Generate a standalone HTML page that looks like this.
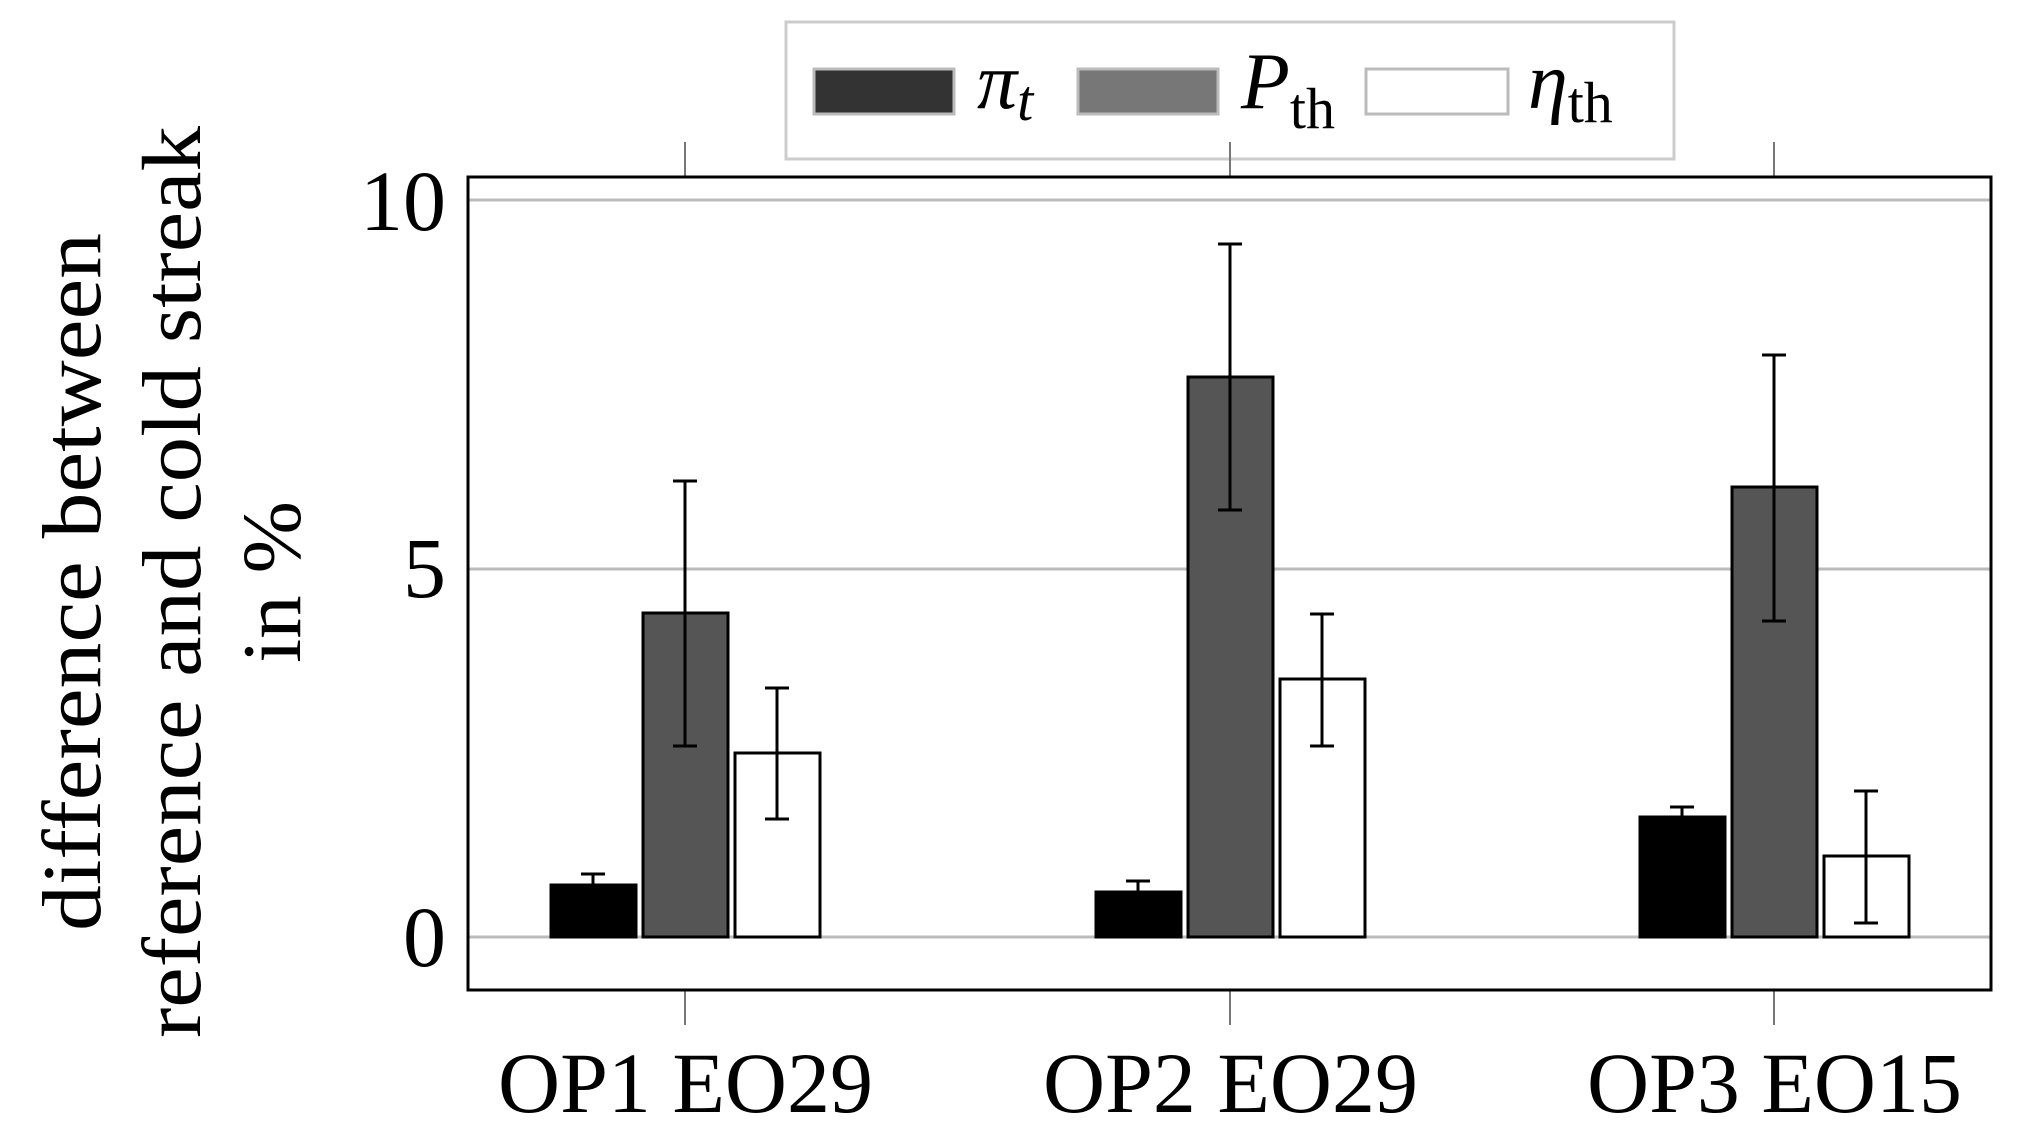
<!DOCTYPE html>
<html><head><style>body{margin:0;background:#fff}svg{display:block}</style></head><body>
<svg width="2017" height="1143" xmlns="http://www.w3.org/2000/svg" font-family="'Liberation Serif',serif">
<rect width="2017" height="1143" fill="#fff"/>
<!-- legend -->
<rect x="786" y="22" width="888" height="137" fill="#fff" stroke="#ccc" stroke-width="3"/>
<rect x="814" y="69" width="140" height="45" fill="#333" stroke="#bbb" stroke-width="3"/>
<text x="977" y="108" font-size="80" font-style="italic">π<tspan font-size="58" dy="12">t</tspan></text>
<rect x="1078" y="69" width="140" height="45" fill="#777" stroke="#bbb" stroke-width="3"/>
<text x="1241" y="108" font-size="80" font-style="italic">P<tspan font-size="58" dy="20" font-style="normal">th</tspan></text>
<rect x="1366" y="69" width="142" height="45" fill="#fff" stroke="#bbb" stroke-width="3"/>
<text x="1528" y="108" font-size="80" font-style="italic">η<tspan font-size="58" dy="14" font-style="normal">th</tspan></text>
<!-- grid -->
<g stroke="#bbb" stroke-width="3">
<line x1="468" y1="200" x2="1991" y2="200"/><line x1="468" y1="569" x2="1991" y2="569"/><line x1="468" y1="937" x2="1991" y2="937"/>
</g>
<g stroke="#777" stroke-width="2">
<line x1="685" y1="142" x2="685" y2="177"/><line x1="1230" y1="142" x2="1230" y2="177"/><line x1="1774" y1="142" x2="1774" y2="177"/>
<line x1="685" y1="990" x2="685" y2="1025"/><line x1="1230" y1="990" x2="1230" y2="1025"/><line x1="1774" y1="990" x2="1774" y2="1025"/>
</g>
<!-- bars -->
<g stroke="#000" stroke-width="3">
<rect x="551" y="885" width="85" height="52" fill="#000"/>
<rect x="643" y="613" width="85" height="324" fill="#555"/>
<rect x="735" y="753" width="85" height="184" fill="#fff"/>
<rect x="1096" y="892" width="85" height="45" fill="#000"/>
<rect x="1188" y="377" width="85" height="560" fill="#555"/>
<rect x="1280" y="679" width="85" height="258" fill="#fff"/>
<rect x="1640" y="817" width="85" height="120" fill="#000"/>
<rect x="1732" y="487" width="85" height="450" fill="#555"/>
<rect x="1824" y="856" width="85" height="81" fill="#fff"/>
</g>
<!-- error bars -->
<g stroke="#000" stroke-width="3" fill="none">
<path d="M593 885V874M581 874H605"/>
<path d="M685 481V746M673 481H697M673 746H697"/>
<path d="M777 688V819M765 688H789M765 819H789"/>
<path d="M1138 892V881M1126 881H1150"/>
<path d="M1230 244V510M1218 244H1242M1218 510H1242"/>
<path d="M1322 614V746M1310 614H1334M1310 746H1334"/>
<path d="M1682 817V807M1670 807H1694"/>
<path d="M1774 355V621M1762 355H1786M1762 621H1786"/>
<path d="M1866 791V923M1854 791H1878M1854 923H1878"/>
</g>
<rect x="468" y="177" width="1523" height="813" fill="none" stroke="#000" stroke-width="3"/>
<!-- y ticks -->
<g font-size="86" text-anchor="end">
<text x="446" y="230">10</text><text x="446" y="597">5</text><text x="446" y="966">0</text>
</g>
<g font-size="86">
<text x="498" y="1112" textLength="375" lengthAdjust="spacingAndGlyphs">OP1 EO29</text>
<text x="1043" y="1112" textLength="375" lengthAdjust="spacingAndGlyphs">OP2 EO29</text>
<text x="1587" y="1112" textLength="375" lengthAdjust="spacingAndGlyphs">OP3 EO15</text>
</g>
<g font-size="84" transform="translate(0,582) rotate(-90)">
<text x="-349" y="100" textLength="698" lengthAdjust="spacingAndGlyphs">difference between</text>
<text x="-456" y="200" textLength="912" lengthAdjust="spacingAndGlyphs">reference and cold streak</text>
<text x="-81" y="300" textLength="162" lengthAdjust="spacingAndGlyphs">in %</text>
</g>
</svg>
</body></html>
